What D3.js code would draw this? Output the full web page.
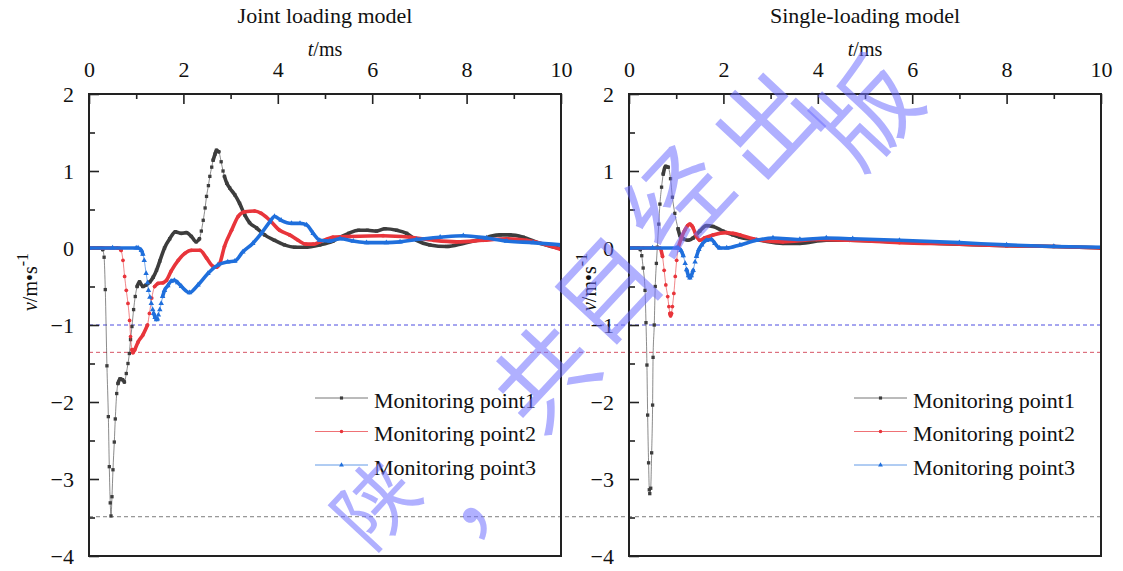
<!DOCTYPE html>
<html><head><meta charset="utf-8">
<script src="https://cdn.jsdelivr.net/npm/d3@7"></script>
<style>
html,body{margin:0;padding:0;background:#fff;}
svg{display:block;}
</style></head><body>
<svg id="c" width="1123" height="571"></svg>
<script>
// ---------------- data ----------------
const seriesNames = ["Monitoring point1","Monitoring point2","Monitoring point3"];
const panelTitles = ["Joint loading model","Single-loading model"];
const xTicks = [0,2,4,6,8,10];
const xMinor = [1,3,5,7,9];
const yTicks = [-4,-3,-2,-1,0,1,2];
const yMinor = [-3.5,-2.5,-1.5,-0.5,0.5,1.5];
const refLevels = [-1.0,-1.355,-3.49];   // dashed reference lines (blue, red, grey)

// Joint loading model: [t (ms), v (m/s)]
const jointP1 = [[0,0],[0.1,0],[0.2,0],[0.26,0],[0.29,-0.02],[0.32,-0.12],[0.345,-0.54],[0.38,-1.53],[0.41,-2.19],[0.43,-2.84],[0.45,-3.31],[0.466,-3.48],[0.487,-3.23],[0.508,-2.88],[0.536,-2.52],[0.557,-2.22],[0.587,-1.89],[0.614,-1.76],[0.657,-1.70],[0.71,-1.71],[0.75,-1.74],[0.79,-1.63],[0.826,-1.50],[0.855,-1.37],[0.88,-1.19],[0.91,-1.02],[0.945,-0.80],[0.98,-0.63],[1.02,-0.50],[1.07,-0.44],[1.14,-0.50],[1.21,-0.48],[1.29,-0.44],[1.36,-0.38],[1.43,-0.29],[1.5,-0.17],[1.6,0.0],[1.71,0.12],[1.83,0.21],[1.96,0.19],[2.06,0.20],[2.17,0.15],[2.27,0.08],[2.34,0.12],[2.38,0.22],[2.42,0.36],[2.46,0.52],[2.49,0.67],[2.53,0.81],[2.56,0.93],[2.6,1.05],[2.63,1.14],[2.67,1.22],[2.7,1.27],[2.75,1.25],[2.8,1.12],[2.84,1.0],[2.87,0.93],[2.92,0.84],[2.98,0.78],[3.09,0.69],[3.19,0.58],[3.3,0.43],[3.4,0.33],[3.55,0.26],[3.72,0.17],[3.93,0.1],[4.14,0.04],[4.36,0.01],[4.57,0.01],[4.89,0.04],[5.17,0.09],[5.32,0.14],[5.5,0.19],[5.71,0.23],[5.9,0.23],[6.09,0.22],[6.27,0.25],[6.52,0.23],[6.73,0.19],[6.94,0.1],[7.22,0.04],[7.58,0.02],[7.93,0.06],[8.28,0.11],[8.5,0.15],[8.71,0.17],[8.92,0.17],[9.2,0.14],[9.55,0.06],[9.8,0.02],[10,-0.01]];
const jointP2 = [[0,0],[0.3,0],[0.6,0],[0.65,-0.005],[0.68,-0.03],[0.72,-0.16],[0.755,-0.37],[0.79,-0.55],[0.826,-0.72],[0.86,-0.94],[0.88,-1.15],[0.91,-1.32],[0.93,-1.36],[0.97,-1.32],[1.04,-1.22],[1.14,-1.13],[1.24,-1.0],[1.28,-0.85],[1.33,-0.65],[1.39,-0.50],[1.46,-0.46],[1.57,-0.45],[1.64,-0.42],[1.74,-0.30],[1.89,-0.16],[2.03,-0.07],[2.17,-0.03],[2.35,-0.03],[2.49,-0.13],[2.63,-0.24],[2.7,-0.25],[2.77,-0.2],[2.87,0.02],[3.02,0.23],[3.16,0.41],[3.3,0.47],[3.51,0.48],[3.65,0.45],[3.83,0.36],[4.04,0.23],[4.25,0.17],[4.43,0.1],[4.6,0.05],[4.75,0.05],[4.89,0.08],[5.17,0.14],[5.53,0.15],[6.23,0.16],[6.8,0.14],[7.3,0.1],[7.79,0.08],[8.35,0.1],[8.85,0.12],[9.27,0.1],[9.7,0.04],[10,-0.02]];
const jointP3 = [[0,0],[0.5,0],[1.0,0],[1.04,0],[1.11,-0.03],[1.14,-0.08],[1.17,-0.16],[1.21,-0.33],[1.24,-0.45],[1.26,-0.55],[1.29,-0.64],[1.32,-0.72],[1.35,-0.8],[1.37,-0.85],[1.4,-0.9],[1.43,-0.93],[1.45,-0.92],[1.47,-0.87],[1.5,-0.8],[1.53,-0.72],[1.56,-0.63],[1.6,-0.55],[1.67,-0.49],[1.74,-0.43],[1.81,-0.42],[1.88,-0.45],[1.96,-0.5],[2.13,-0.58],[2.31,-0.48],[2.52,-0.33],[2.73,-0.22],[2.94,-0.18],[3.09,-0.17],[3.26,-0.05],[3.47,0.06],[3.65,0.19],[3.83,0.34],[3.93,0.41],[4.07,0.36],[4.29,0.32],[4.47,0.32],[4.61,0.3],[4.75,0.19],[4.89,0.1],[5.1,0.09],[5.32,0.12],[5.6,0.09],[5.88,0.07],[6.3,0.07],[6.59,0.08],[6.94,0.11],[7.44,0.14],[7.93,0.16],[8.42,0.13],[8.85,0.09],[9.41,0.07],[10,0.04]];

// Single-loading model
const singleP1 = [[0,0],[0.1,0],[0.2,0],[0.24,-0.02],[0.27,-0.1],[0.3,-0.26],[0.34,-0.55],[0.36,-0.97],[0.38,-1.52],[0.395,-2.17],[0.415,-2.79],[0.43,-3.14],[0.44,-3.19],[0.46,-3.12],[0.48,-2.66],[0.5,-2.04],[0.51,-1.42],[0.535,-1.0],[0.556,-0.5],[0.58,-0.2],[0.6,0.01],[0.63,0.31],[0.655,0.57],[0.69,0.79],[0.725,0.96],[0.775,1.06],[0.83,1.05],[0.88,0.9],[0.92,0.66],[0.97,0.45],[1.04,0.25],[1.08,0.16],[1.15,0.12],[1.25,0.1],[1.36,0.13],[1.5,0.22],[1.64,0.29],[1.78,0.28],[1.99,0.22],[2.2,0.17],[2.35,0.14],[2.77,0.1],[3.26,0.06],[3.62,0.06],[4.18,0.1],[4.67,0.1],[5.2,0.09],[5.73,0.08],[6.1,0.07],[7.0,0.05],[8.0,0.03],[9.0,0.02],[10,0.0]];
const singleP2 = [[0,0],[0.3,0],[0.6,0],[0.655,0],[0.71,-0.11],[0.745,-0.29],[0.78,-0.48],[0.82,-0.63],[0.845,-0.76],[0.867,-0.85],[0.88,-0.88],[0.9,-0.85],[0.92,-0.76],[0.95,-0.59],[0.98,-0.37],[1.01,-0.16],[1.04,0],[1.11,0.13],[1.18,0.23],[1.24,0.29],[1.29,0.31],[1.33,0.29],[1.36,0.26],[1.43,0.15],[1.5,0.1],[1.6,0.13],[1.78,0.17],[2.07,0.2],[2.2,0.19],[2.35,0.17],[2.63,0.12],[3.26,0.08],[3.97,0.11],[4.67,0.1],[5.73,0.07],[7.0,0.05],[8.0,0.03],[9.0,0.02],[10,0.0]];
const singleP3 = [[0,0],[0.5,0],[1.0,0],[1.04,0],[1.1,-0.03],[1.15,-0.1],[1.19,-0.2],[1.22,-0.28],[1.26,-0.36],[1.29,-0.39],[1.32,-0.36],[1.36,-0.29],[1.4,-0.18],[1.43,-0.11],[1.48,-0.02],[1.54,0.04],[1.64,0.1],[1.75,0.11],[1.82,0.06],[1.92,0.0],[2.07,0.0],[2.35,0.04],[2.7,0.1],[3.05,0.13],[3.62,0.11],[4.18,0.13],[4.74,0.12],[5.73,0.1],[7.0,0.07],[8.0,0.04],[9.0,0.02],[10,0.01]];

const watermarkChars = ["陕","，","共","目","经","出","版"];

// ---------------- style / layout ----------------
const colors = ["#3d3d3d","#e8353b","#1f6fdc"];
const refColors = ["#4d4de0","#d65565","#7d7d7d"];
const shapes = [d3.symbolSquare, d3.symbolCircle, d3.symbolTriangle];
const serif = "'Liberation Serif','Times New Roman',serif";
const plotTop = 94, plotBottom = 556;
const panels = [
  {x0:89, x1:561, title:panelTitles[0], data:[jointP1,jointP2,jointP3], ylabX:37, legX:315},
  {x0:629, x1:1101, title:panelTitles[1], data:[singleP1,singleP2,singleP3], ylabX:596, legX:854}
];

const svg = d3.select("#c");
const y = d3.scaleLinear().domain([-4,2]).range([plotBottom, plotTop]);

// dashed reference levels spanning both panels
const xAll = d3.scaleLinear().domain([0,20]).range([panels[0].x0, panels[1].x1]);
svg.append("g").selectAll("line").data(refLevels).join("line")
  .attr("x1", xAll(0)).attr("x2", xAll(20))
  .attr("y1", d=>y(d)).attr("y2", d=>y(d))
  .attr("stroke", (d,i)=>refColors[i]).attr("stroke-width",1)
  .attr("stroke-dasharray","4,3");

const defs = svg.append("defs");

panels.forEach((p,pi)=>{
  const x = d3.scaleLinear().domain([0,10]).range([p.x0,p.x1]);
  const g = svg.append("g");

  const styleAxis = sel => {
    sel.select(".domain").remove();
    sel.selectAll(".tick line").attr("stroke","#222").attr("stroke-width",1.6);
    sel.selectAll("text").attr("font-family",serif).attr("font-size",22).attr("fill","#111");
  };
  g.append("g").attr("transform",`translate(0,${plotTop})`)
    .call(d3.axisTop(x).tickValues(xTicks).tickSizeInner(-10).tickSizeOuter(0).tickPadding(17).tickFormat(d3.format("d")))
    .call(styleAxis);
  g.append("g").attr("transform",`translate(0,${plotTop})`)
    .call(d3.axisTop(x).tickValues(xMinor).tickSizeInner(-5).tickSizeOuter(0).tickFormat(""))
    .call(styleAxis);
  g.append("g").attr("transform",`translate(${p.x0},0)`)
    .call(d3.axisLeft(y).tickValues(yTicks).tickSizeInner(-10).tickSizeOuter(0).tickPadding(15).tickFormat(d3.format("d")))
    .call(styleAxis);
  g.append("g").attr("transform",`translate(${p.x0},0)`)
    .call(d3.axisLeft(y).tickValues(yMinor).tickSizeInner(-6).tickSizeOuter(0).tickFormat(""))
    .call(styleAxis);

  const cx = (p.x0+p.x1)/2;
  g.append("text").attr("x",cx).attr("y",23).attr("text-anchor","middle")
    .attr("font-family",serif).attr("font-size",22).attr("fill","#111").text(p.title);
  const xl = g.append("text").attr("x",cx).attr("y",56).attr("text-anchor","middle")
    .attr("font-family",serif).attr("font-size",20).attr("fill","#111");
  xl.append("tspan").attr("font-style","italic").text("t");
  xl.append("tspan").text("/ms");
  const yl = g.append("text").attr("transform",`translate(${p.ylabX},282) rotate(-90)`)
    .attr("text-anchor","middle").attr("font-family",serif).attr("font-size",20).attr("fill","#111");
  yl.append("tspan").attr("font-style","italic").text("v");
  yl.append("tspan").text("/m•s");
  yl.append("tspan").attr("font-size",16).attr("dy",-9).text("-1");

  defs.append("clipPath").attr("id","clip"+pi).append("rect")
    .attr("x",p.x0).attr("y",plotTop).attr("width",p.x1-p.x0).attr("height",plotBottom-plotTop);
  const plot = g.append("g").attr("clip-path",`url(#clip${pi})`);
  const line = d3.line().curve(d3.curveMonotoneX);

  p.data.forEach((series,si)=>{
    const pts = series.map(d=>[x(d[0]), y(d[1])]);
    const col = colors[si];
    plot.append("path").attr("d",line(pts)).attr("fill","none")
      .attr("stroke",col).attr("stroke-width",1).attr("stroke-opacity",0.6);
    const runs = []; let run = [pts[0]];
    for (let i=1;i<pts.length;i++){
      const dx = pts[i][0]-pts[i-1][0], dy = pts[i][1]-pts[i-1][1];
      const steep = Math.abs(dy) > 3.8*Math.abs(dx);
      if (!steep) run.push(pts[i]);
      else { if (run.length>1) runs.push(run); run=[pts[i]]; }
    }
    if (run.length>1) runs.push(run);
    runs.forEach(r=>{
      plot.append("path").attr("d",line(r)).attr("fill","none")
        .attr("stroke",col).attr("stroke-width",3.6)
        .attr("stroke-linecap","round").attr("stroke-linejoin","round");
    });
    const sym = d3.symbol().type(shapes[si]).size(si===2?13:11);
    plot.append("g").selectAll("path").data(pts).join("path")
      .attr("transform",d=>`translate(${d[0]},${d[1]})`)
      .attr("d",sym).attr("fill",col);
  });

  g.append("rect").attr("x",p.x0).attr("y",plotTop).attr("width",p.x1-p.x0).attr("height",plotBottom-plotTop)
    .attr("fill","none").attr("stroke","#222").attr("stroke-width",2);

  const leg = g.append("g");
  seriesNames.forEach((name,si)=>{
    const ly = 398 + si*33.5;
    leg.append("line").attr("x1",p.legX).attr("x2",p.legX+53).attr("y1",ly).attr("y2",ly)
      .attr("stroke",colors[si]).attr("stroke-width",1).attr("stroke-opacity",0.7);
    leg.append("path").attr("transform",`translate(${p.legX+26.5},${ly})`)
      .attr("d",d3.symbol().type(shapes[si]).size(10)()).attr("fill",colors[si]);
    leg.append("text").attr("x",p.legX+59).attr("y",ly+9.5)
      .attr("font-family",serif).attr("font-size",22).attr("fill","#111").text(name);
  });
});

// watermark overlay (kept inside the canvas)
const wmPos = [[372,500],[468,478],[540,372],[603,285],[672,196],[762,120],[862,108]];
const wmSizes = [80,100,100,100,100,100,100];
const wm = svg.append("g").attr("pointer-events","none");
watermarkChars.forEach((ch,i)=>{
  wm.append("text").attr("transform",`translate(${wmPos[i][0]},${wmPos[i][1]}) rotate(-47)`)
    .attr("text-anchor","middle").attr("dominant-baseline","central")
    .attr("font-family","'Noto Sans CJK SC',sans-serif").attr("font-size",wmSizes[i])
    .attr("fill","#6f6fff").attr("fill-opacity",0.55).text(ch);
});
</script>
</body></html>
